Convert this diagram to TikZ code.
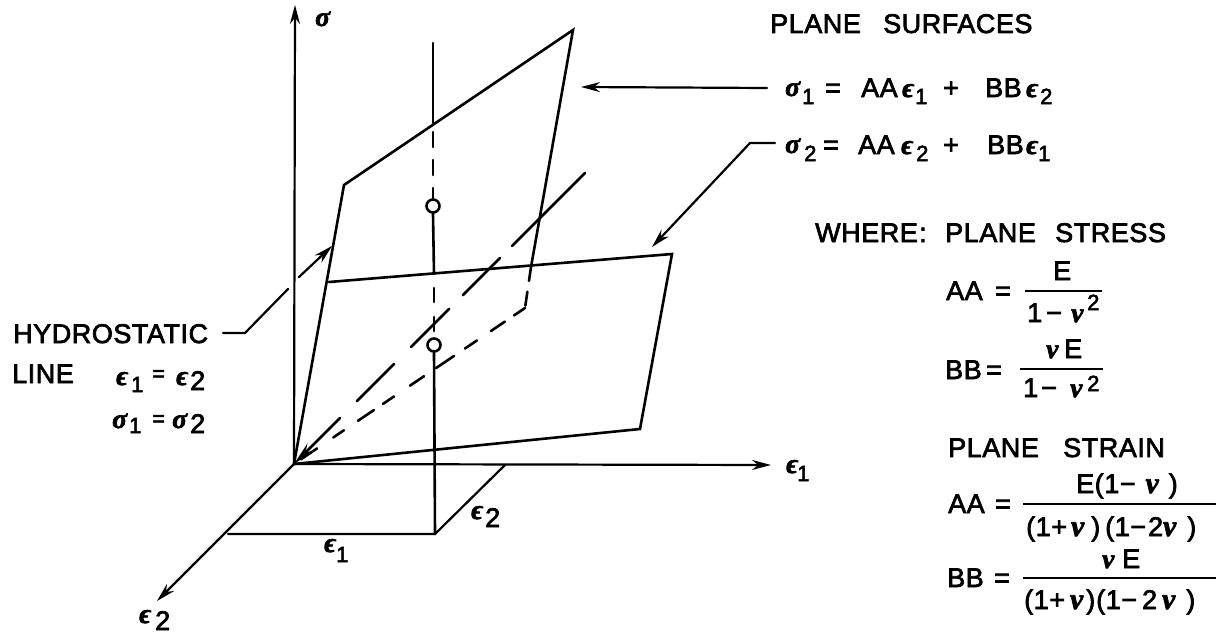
\documentclass[tikz,border=0pt]{standalone}
\usepackage{fontspec}
\usetikzlibrary{arrows.meta,calc}
\setmainfont[LetterSpace=2,FakeBold=2.5]{Liberation Sans}
\newfontfamily\gkfont[Scale=1.1,FakeBold=2.5,BoldItalicFont={Liberation Serif Bold Italic}]{Liberation Serif}
\newcommand{\gk}[1]{{\gkfont\bfseries\itshape #1}}
\tikzset{
 tx/.style={inner sep=0pt,anchor=base west,font=\fontsize{27}{28}\selectfont},
 sm/.style={inner sep=0pt,anchor=base west,font=\fontsize{22}{24}\selectfont},
 gr/.style={inner sep=0pt,anchor=base west,font=\fontsize{25}{26}\selectfont},
 ln/.style={line width=2.6pt,line cap=round,line join=miter},
 thn/.style={line width=2.2pt,line cap=round},
 arr/.style={-{Stealth[length=19pt,width=10pt]}},
 dot/.style={circle,draw,fill=white,line width=2.6pt,inner sep=0pt,minimum size=13pt},
 bar/.style={line width=2.6pt}
}
\begin{document}
\begin{tikzpicture}[x=1pt,y=-1pt]
\useasboundingbox (0,0) rectangle (1227,634);
\fill[white] (0,0) rectangle (1227,634);
% key points
\coordinate (O) at (294,464);
\coordinate (sigtop) at (295,5);
\coordinate (e1end) at (771,465);
\coordinate (e2end) at (157,601);
\coordinate (U1) at (344,185);
\coordinate (U2) at (573,30);
\coordinate (U3) at (531,267);
\coordinate (U4) at (525,308);
\coordinate (L1) at (329,282);
\coordinate (L2) at (672,254);
\coordinate (L3) at (640,429);
\coordinate (Vt) at (433,43);
\coordinate (Vu) at (433,123);
\coordinate (Vl) at (434,274);
\coordinate (F) at (435,534);
\coordinate (Fl) at (228,534);
\coordinate (Fr) at (505,465);
\coordinate (H) at (585,173);
\node[dot] (c1) at (433,206) {};
\node[dot] (c2) at (434,345) {};
% axes
\draw[thn,arr] (O) -- (sigtop);
\draw[thn,arr] (O) -- (e1end);
\draw[thn,arr] (O) -- (e2end);
% floor
\draw[ln,line width=2.2pt] (Fl) -- (F) -- (Fr);
% upper plane
\draw[ln] (O) -- (U1) -- (U2) -- (U3);
\draw[ln,dash pattern=on 14pt off 11pt] (U3) -- (U4);
\foreach \a/\b in {.03/.10,.17/.216,.277/.346,.385/.433,.502/.563,.615/.693,.74/.792,.853/.913,.952/1}
  \draw[ln] ($(O)!\a!(U4)$) -- ($(O)!\b!(U4)$);
% lower plane
\draw[ln] (L1) -- (L2) -- (L3) -- (O);
% vertical
\draw[ln] (Vt) -- (Vu);
\draw[ln,dash pattern=on 15pt off 13pt,dash phase=-9pt] (Vu) -- (c1.north);
\draw[ln] (c1.south) -- (Vl);
\draw[ln,dash pattern=on 14pt off 15pt,dash phase=-14pt] (Vl) -- (c2.north);
\draw[ln] (c2.south) -- (F);
% hydrostatic line
\draw[ln,{Stealth[length=24pt,width=10pt]}-] (O) -- ($(O)!.158!(H)$);
\foreach \a/\b in {.216/.344,.402/.533,.58/.708,.749/1}
  \draw[ln] ($(O)!\a!(H)$) -- ($(O)!\b!(H)$);
% leaders
\coordinate (ha) at (223,333);
\coordinate (hb) at (245,333);
\coordinate (hc) at (288,289);
\coordinate (hd) at (299,277);
\coordinate (he) at (332,246);
\draw[thn] (ha) -- (hb) -- (hc);
\draw[thn,arr] (hd) -- (he);
\coordinate (pa) at (767,88);
\coordinate (pb) at (581,87);
\draw[thn,arr] (pa) -- (pb);
\coordinate (qa) at (775,143);
\coordinate (qb) at (750,143);
\coordinate (qc) at (652,247);
\draw[thn,arr] (qa) -- (qb) -- (qc);
% axis labels
\node[gr] (ls) at (315,26) {\gk{σ}};
\node[gr] (le1) at (786,473) {\gk{ϵ}};
\node[sm] (le1s) at (797,481) {1};
\node[gr] (le2) at (139,623) {\gk{ϵ}};
\node[tx] (le2s) at (155,630) {2};
\node[gr] (fe1) at (324,552) {\gk{ϵ}};
\node[sm] (fe1s) at (336,562) {1};
\node[gr] (fe2) at (471,519) {\gk{ϵ}};
\node[tx] (fe2s) at (485,527) {2};
% left labels
\node[tx] (hy) at (13,343) {HYDROSTATIC};
\node[tx] (li) at (12,383) {LINE};
\node[gr] (a1) at (116,385) {\gk{ϵ}};
\node[sm] (a2) at (131,392) {1};
\node[sm] (a3) at (152,381) {=};
\node[gr] (a4) at (176,385) {\gk{ϵ}};
\node[tx] (a5) at (190,390) {2};
\node[gr] (b1) at (112,428) {\gk{σ}};
\node[sm] (b2) at (129,433) {1};
\node[sm] (b3) at (152,426) {=};
\node[gr] (b4) at (172,428) {\gk{σ}};
\node[tx] (b5) at (190,433) {2};
% heading
\node[tx] (ps) at (770,33) {PLANE};
\node[tx] (su) at (883,33) {SURFACES};
% equation 1
\node[gr] (c11) at (785,96) {\gk{σ}};
\node[sm] (c12) at (802,104) {1};
\node[tx] (c13) at (825,97) {=};
\node[tx] (c14) at (861,97) {AA};
\node[gr] (c15) at (902,97) {\gk{ϵ}};
\node[sm] (c16) at (915,104) {1};
\node[tx] (c17) at (943,97) {+};
\node[tx] (c18) at (985,97) {BB};
\node[gr] (c19) at (1026,97) {\gk{ϵ}};
\node[sm] (c110) at (1040,104) {2};
% equation 2
\node[gr] (d11) at (785,153) {\gk{σ}};
\node[sm] (d12) at (804,161) {2};
\node[tx] (d13) at (823,154) {=};
\node[tx] (d14) at (858,154) {AA};
\node[gr] (d15) at (901,154) {\gk{ϵ}};
\node[sm] (d16) at (916,161) {2};
\node[tx] (d17) at (943,154) {+};
\node[tx] (d18) at (987,154) {BB};
\node[gr] (d19) at (1026,154) {\gk{ϵ}};
\node[sm] (d110) at (1038,161) {1};
% where
\node[tx] (wh) at (815,242) {WHERE};
\node[tx] (wc) at (919,242) {:};
\node[tx] (wp) at (945,242) {PLANE};
\node[tx] (ws) at (1055,242) {STRESS};
% plane stress AA
\node[tx] (e1) at (946,300) {AA};
\node[tx] (e2) at (995,300) {=};
\draw[bar] (1025,291) -- (1102,291);
\node[tx] (e3) at (1053,280) {E};
\node[tx] (e4) at (1027,322) {1};
\node[tx] (e5) at (1046,322) {−};
\node[gr] (e6) at (1071,322) {\gk{ν}};
\node[sm] (e7) at (1087,310) {2};
% plane stress BB
\node[tx] (f1) at (945,379) {BB};
\node[tx] (f2) at (986,379) {=};
\draw[bar] (1020,369) -- (1103,369);
\node[gr] (f3) at (1046,358) {\gk{ν}};
\node[tx] (f4) at (1064,358) {E};
\node[tx] (f5) at (1023,397) {1};
\node[tx] (f6) at (1041,397) {−};
\node[gr] (f7) at (1070,397) {\gk{ν}};
\node[sm] (f8) at (1087,391) {2};
% plane strain
\node[tx] (g1) at (948,457) {PLANE};
\node[tx] (g2) at (1063,457) {STRAIN};
\node[tx] (g3) at (948,513) {AA};
\node[tx] (g4) at (995,513) {=};
\draw[bar] (1023,504) -- (1216,504);
\node[tx] (g5) at (1076,493) {E(1−\hspace{10pt}\gk{ν}\hspace{10pt})};
\node[tx] (g6) at (1026,536) {(1+\hspace{4pt}\gk{ν}\hspace{7pt})\hspace{5pt}(1−\hspace{2pt}2\gk{ν}\hspace{11pt})};
\node[tx] (h1) at (947,587) {BB};
\node[tx] (h2) at (994,587) {=};
\draw[bar] (1023,578) -- (1216,578);
\node[gr] (h3) at (1102,568) {\gk{ν}};
\node[tx] (h4) at (1122,568) {E};
\node[tx] (h5) at (1024,609) {(1+\hspace{5pt}\gk{ν}\hspace{3pt})\hspace{1pt}(1−\hspace{5pt}2\hspace{5pt}\gk{ν}\hspace{11pt})};
\end{tikzpicture}
\end{document}
